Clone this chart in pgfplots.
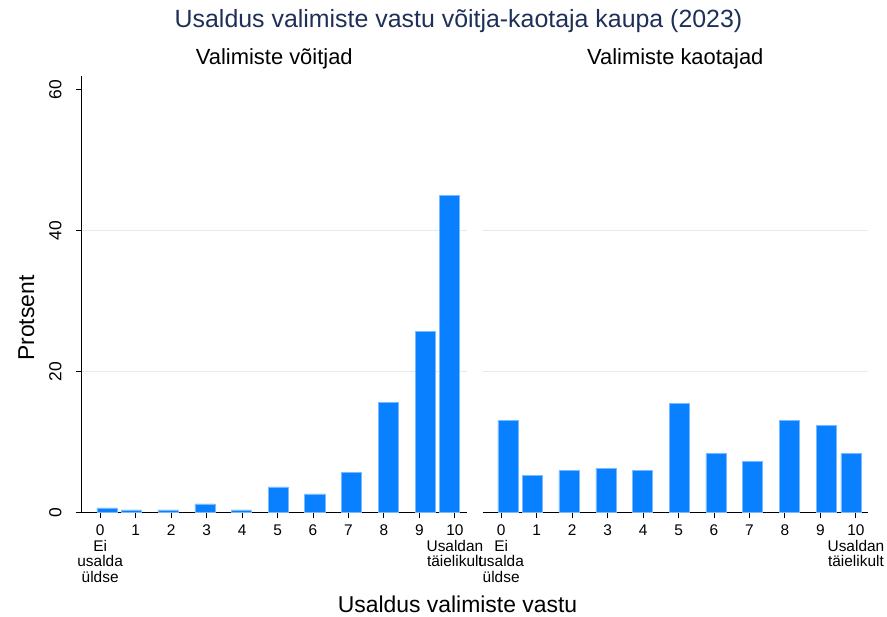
\documentclass[border=0pt]{standalone}
\usepackage{fontspec}
\setmainfont{Liberation Sans}
\usepackage{pgfplots}
\pgfplotsset{compat=1.18}

\begin{document}
\begin{tikzpicture}

\definecolor{barblue}{RGB}{8,128,255}
\definecolor{baredge}{RGB}{120,185,255}
\definecolor{gridgray}{RGB}{226,236,240}
\definecolor{titlenavy}{RGB}{30,48,88}

\path[use as bounding box] (0,0) rectangle (887bp,617bp);

\pgfplotsset{panel/.style={
  at={(#1,104.7bp)}, anchor=south west,
  scale only axis, width=385.3bp, height=436.3bp,
  xmin=-0.52, xmax=10.34, ymin=0, ymax=61.9,
  axis x line*=bottom, axis y line*=left,
  axis line style={line width=1.1bp, -},
  tick align=outside, major tick length=6bp,
  tick style={line width=1bp, black},
  /pgf/number format/assume math mode=true,
  xtick={0,...,10},
  xticklabels={{0\\Ei\\usalda\\üldse},1,2,3,4,5,6,7,8,9,{10\\Usaldan\\täielikult}},
  xticklabel style={font=\fontsize{15.5}{15.5}\selectfont, align=center, inner sep=0pt},
  xticklabel shift=6.7bp,
  extra y ticks={20,40}, extra y tick labels={},
  extra y tick style={ymajorgrids=true, major tick length=0pt},
  grid style={gridgray, line width=1bp},
  ybar, bar width=20bp,
}}

% Valimiste võitjad
\begin{axis}[panel=81.7bp,
  ytick={0,20,40,60},
  yticklabel style={font=\fontsize{17.5}{17.5}\selectfont, rotate=90, anchor=south, inner sep=0pt},
  yticklabel shift=14bp,
]
\addplot[fill=barblue, draw=baredge, line width=0.6bp] coordinates {
(0.19,0.61) (0.87,0.33) (1.91,0.33) (2.95,1.18) (3.975,0.33) (5.015,3.59)
(6.05,2.60) (7.08,5.67) (8.12,15.6) (9.16,25.7) (9.855,45.0)
};
\end{axis}

% Valimiste kaotajad
\begin{axis}[panel=482.7bp,
  ytick=\empty,
  y axis line style={draw=none},
]
\addplot[fill=barblue, draw=baredge, line width=0.6bp] coordinates {
(0.19,13.05) (0.87,5.25) (1.91,5.90) (2.95,6.24) (3.975,5.90) (5.015,15.46)
(6.05,8.31) (7.08,7.23) (8.12,13.05) (9.16,12.38) (9.855,8.31)
};
\end{axis}

\node[font=\fontsize{25}{25}\selectfont, text=titlenavy, anchor=base] at (458.5bp,589bp) {Usaldus valimiste vastu võitja-kaotaja kaupa (2023)};
\node[font=\fontsize{22}{22}\selectfont, anchor=base] at (274.3bp,552bp) {Valimiste võitjad};
\node[font=\fontsize{22}{22}\selectfont, anchor=base] at (675.3bp,552bp) {Valimiste kaotajad};
\node[font=\fontsize{23}{23}\selectfont, anchor=base] at (457.5bp,5bp) {Usaldus valimiste vastu};
\node[font=\fontsize{23}{23}\selectfont, rotate=90, anchor=base] at (34bp,299bp) {Protsent};

\end{tikzpicture}
\end{document}
